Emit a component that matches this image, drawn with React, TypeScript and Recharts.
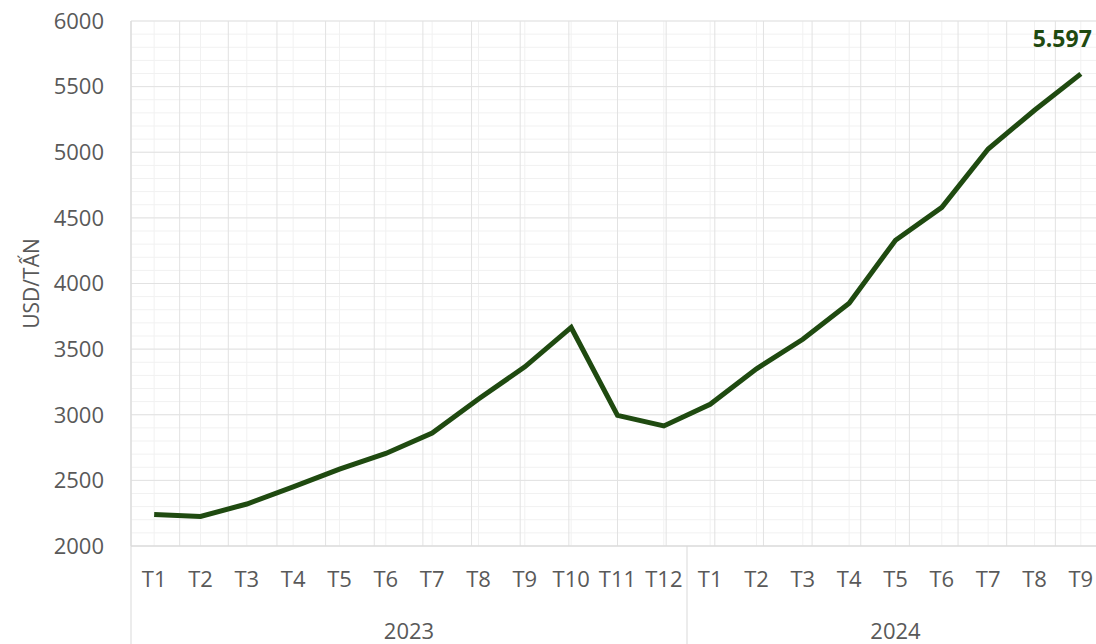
import React from 'react';
import { LineChart, Line, XAxis, YAxis, CartesianGrid, LabelList } from 'recharts';

const months = ['T1', 'T2', 'T3', 'T4', 'T5', 'T6', 'T7', 'T8', 'T9', 'T10', 'T11', 'T12', 'T1', 'T2', 'T3', 'T4', 'T5', 'T6', 'T7', 'T8', 'T9'];
const years = ['2023', '2023', '2023', '2023', '2023', '2023', '2023', '2023', '2023', '2023', '2023', '2023', '2024', '2024', '2024', '2024', '2024', '2024', '2024', '2024', '2024'];
const prices = [2240, 2225, 2320, 2450, 2585, 2705, 2860, 3120, 3365, 3665, 2995, 2915, 3080, 3350, 3575, 3850, 4330, 4580, 5025, 5320, 5597];
const majorTicks = [2000, 2500, 3000, 3500, 4000, 4500, 5000, 5500, 6000];
const minorTicks = Array.from({ length: 41 }, (_, i) => 2000 + i * 100);
const boundTicks = Array.from({ length: months.length + 1 }, (_, i) => i);

const data = months.map((m, i) => ({ idx: i, month: m, year: years[i], price: prices[i] }));

const CHART_W = 1110;
const CHART_H = 644;
const Y_W = 131;
const M_RIGHT = 6;
const PLOT_TOP = 21;
const PLOT_BOTTOM = 546;
const STEP = (CHART_W - Y_W - M_RIGHT) / months.length;

const LINE_COLOR = '#1f4a10';
const TEXT_COLOR = '#595959';
const AXIS_COLOR = '#d9d9d9';

function MonthTick(props: any) {
  const { x, index } = props;
  const year = years[index];
  const first = years.indexOf(year);
  const count = years.filter((y) => y === year).length;
  return (
    <g>
      <text x={x} y={PLOT_BOTTOM + 41} textAnchor="middle" fill={TEXT_COLOR} fontSize={22}>
        {months[index]}
      </text>
      {index === first && (
        <>
          <line x1={x - STEP / 2} x2={x - STEP / 2} y1={PLOT_BOTTOM} y2={CHART_H} stroke={AXIS_COLOR} />
          <text x={x + ((count - 1) / 2) * STEP} y={PLOT_BOTTOM + 93} textAnchor="middle" fill={TEXT_COLOR} fontSize={22}>
            {year}
          </text>
        </>
      )}
    </g>
  );
}

function LastLabel(props: any) {
  const { x, y, value, index } = props;
  if (index !== prices.length - 1) return null;
  const txt = Number(value).toLocaleString('de-DE');
  return (
    <text x={x + 11} y={y - 27} textAnchor="end" fill={LINE_COLOR} fontSize={23} fontWeight="bold">
      {txt}
    </text>
  );
}

export default function App() {
  return (
    <div style={{ position: 'absolute', left: 0, top: 0, width: 1096, height: 644, overflow: 'hidden', background: '#fff', fontFamily: '"Open Sans", sans-serif' }}>
      <LineChart width={CHART_W} height={CHART_H} data={data} margin={{ top: PLOT_TOP, right: M_RIGHT, left: 0, bottom: 0 }}>
        <CartesianGrid yAxisId="minor" vertical={true} horizontal={true} stroke="#f1f1f1" />
        <CartesianGrid xAxisId="bound" vertical={true} horizontal={true} stroke="#e2e2e2" />
        <XAxis
          dataKey="idx"
          type="category"
          scale="point"
          padding={{ left: STEP / 2, right: STEP / 2 }}
          height={CHART_H - PLOT_BOTTOM}
          axisLine={{ stroke: AXIS_COLOR }}
          tickLine={false}
          interval={0}
          tick={<MonthTick />}
        />
        <XAxis xAxisId="bound" type="number" domain={[0, months.length]} ticks={boundTicks} interval={0} allowDataOverflow hide />
        <YAxis
          width={Y_W}
          domain={[2000, 6000]}
          ticks={majorTicks}
          interval={0}
          tickLine={false}
          tickMargin={21}
          axisLine={{ stroke: AXIS_COLOR }}
          tick={{ fill: TEXT_COLOR, fontSize: 22 }}
          label={{ value: 'USD/TẤN', angle: -90, position: 'insideLeft', offset: 32, fill: TEXT_COLOR, fontSize: 21, style: { textAnchor: 'middle' } }}
        />
        <YAxis yAxisId="minor" domain={[2000, 6000]} ticks={minorTicks} interval={0} allowDataOverflow hide />
        <Line
          type="linear"
          dataKey="price"
          stroke={LINE_COLOR}
          strokeWidth={5}
          dot={false}
          activeDot={false}
          isAnimationActive={false}
        >
          <LabelList dataKey="price" content={<LastLabel />} />
        </Line>
      </LineChart>
    </div>
  );
}
